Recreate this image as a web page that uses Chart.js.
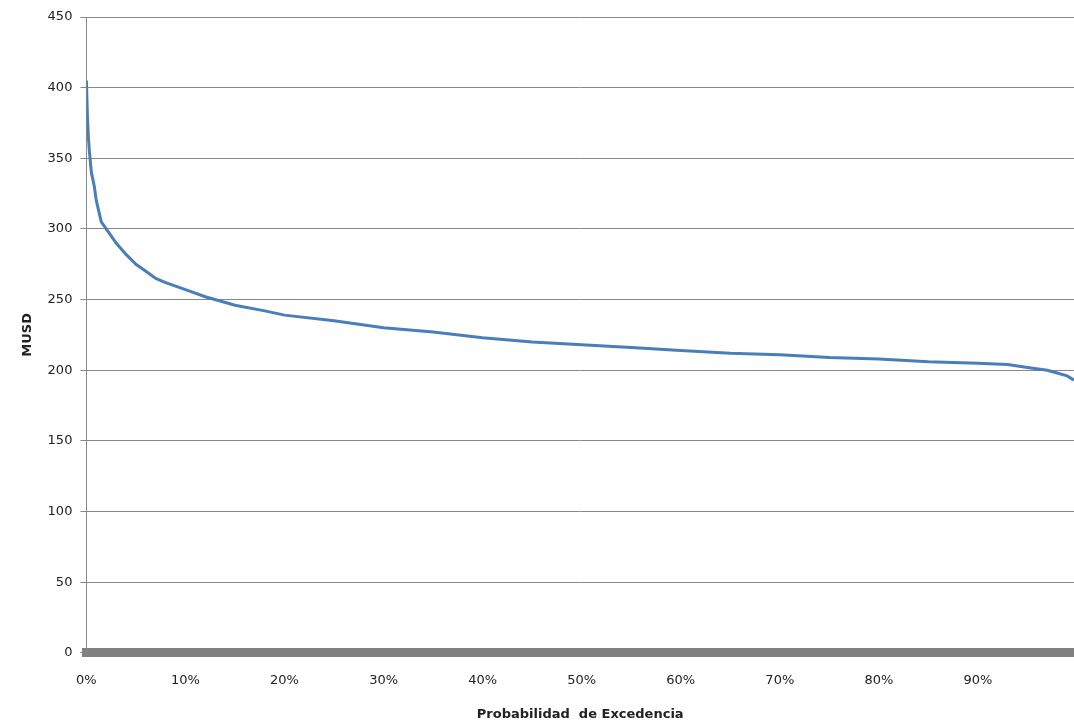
<!DOCTYPE html>
<html><head><meta charset="utf-8">
<script src="https://cdn.jsdelivr.net/npm/chart.js@4/dist/chart.umd.min.js"></script>
<style>html,body{margin:0;background:#fff}#c{width:1074px;height:725px}</style>
</head><body><div id="c"><canvas id="myChart"></canvas></div>
<script>
const probs  = [0,0.1,0.2,0.3,0.5,0.8,1,1.5,2,3,4,5,6,7,8,10,12,15,18,20,25,30,35,40,45,50,55,60,65,70,75,80,85,90,93,95,97,98,99,99.7];
const values = [405,380,365,355,340,330,320,305,300,290,282,275,270,265,262,257,252,246,242,239,235,230,227,223,220,218,216,214,212,211,209,208,206,205,204,202,200,198,196,193];
const yTicks = [0,50,100,150,200,250,300,350,400,450];

const pts = probs.map((p,i)=>({x:p,y:values[i]}));
const font = {family:'DejaVu Sans', size:13};

new Chart(document.getElementById('myChart'), {
  type:'line',
  data:{datasets:[{data:pts, borderColor:'#4a7ebb', borderWidth:3, pointRadius:0, tension:0}]},
  options:{
    responsive:true, maintainAspectRatio:false, animation:false,
    layout:{padding:{top:17,right:0,left:16,bottom:1}},
    plugins:{legend:{display:false}, tooltip:{enabled:false}},
    scales:{
      x:{type:'linear', min:0, max:99.7,
        afterBuildTicks:a=>{a.ticks=[0,10,20,30,40,50,60,70,80,90].map(v=>({value:v}));},
        ticks:{callback:v=>v+'%', color:'#222', font, maxRotation:0, padding:12},
        grid:{display:false},
        border:{color:'#808080', width:9},
        title:{display:true, text:'Probabilidad  de Excedencia', color:'#222', padding:{top:6,bottom:2}, font:{family:'DejaVu Sans', size:13, weight:'bold'}}
      },
      y:{min:0, max:450,
        afterBuildTicks:a=>{a.ticks=yTicks.map(v=>({value:v}));},
        ticks:{color:'#222', font, padding:8},
        grid:{color:'#888', tickLength:6},
        border:{color:'#888'},
        title:{display:true, text:'MUSD', color:'#222', font:{family:'DejaVu Sans', size:13, weight:'bold'}}
      }
    }
  }
});
</script></body></html>
